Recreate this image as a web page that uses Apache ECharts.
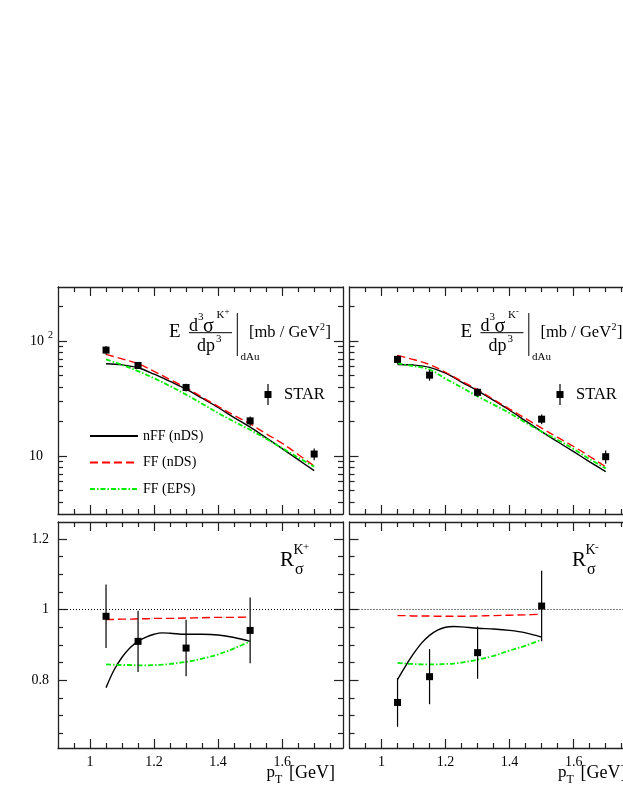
<!DOCTYPE html>
<html>
<head>
<meta charset="utf-8">
<script src="https://cdn.jsdelivr.net/npm/echarts@6/dist/echarts.min.js"></script>
<style>
html, body { margin: 0; padding: 0; background: #fff; overflow: hidden; }
#chart { width: 660px; height: 806px; }
</style>
</head>
<body>
<div id="chart"></div>
<script>
var chart = echarts.init(document.getElementById('chart'));

// STAR d+Au points, cross section [mb/GeV^2]
var ptPoints = [1.05, 1.15, 1.3, 1.5, 1.7];
var kPlusSigma = [83.4, 61.3, 39.4, 20.2, 10.4];
var kPlusSigmaErr = [7.0, 4.2, 3.0, 1.9, 1.2];
var kMinusSigma = [69.2, 50.5, 35.8, 20.9, 9.86];
var kMinusSigmaErr = [5.8, 5.3, 3.0, 2.0, 1.3];

// STAR ratio points
var ratioPoints = [1.05, 1.15, 1.3, 1.5];
var kPlusRatio = [0.981, 0.910, 0.891, 0.941];
var kPlusRatioErr = [0.090, 0.087, 0.080, 0.093];
var kMinusRatio = [0.737, 0.810, 0.878, 1.010];
var kMinusRatioErr = [0.069, 0.078, 0.074, 0.100];

// theory curves, cross section
var ptCurve = [1.05, 1.1, 1.15, 1.2, 1.25, 1.3, 1.35, 1.4, 1.45, 1.5, 1.55, 1.6, 1.65, 1.7];
var kPlusNffNds = [63.4, 62.0, 58.5, 51.5, 44.5, 38.2, 31.8, 26.4, 21.6, 17.8, 14.4, 11.6, 9.3, 7.45];
var kPlusFfNds = [76.6, 70.0, 63.5, 54.5, 46.2, 39.1, 32.5, 27.0, 22.6, 19.0, 15.6, 12.9, 10.3, 8.2];
var kPlusFfEps = [69.2, 62.0, 54.7, 47.5, 40.5, 34.2, 28.5, 23.6, 19.9, 16.9, 14.1, 11.7, 9.7, 8.07];
var kMinusNffNds = [62.5, 61.8, 59.0, 52.5, 44.0, 37.0, 30.5, 25.0, 20.2, 16.3, 13.3, 10.9, 8.9, 7.3];
var kMinusFfNds = [75.0, 69.0, 62.5, 53.5, 44.8, 37.8, 31.0, 25.6, 21.2, 17.5, 14.5, 12.1, 9.9, 8.06];
var kMinusFfEps = [63.8, 60.5, 56.5, 47.0, 39.5, 33.0, 28.0, 23.6, 19.5, 16.3, 13.8, 11.5, 9.4, 7.8];

// theory curves, ratio
var ptRatioCurve = [1.05, 1.075, 1.1, 1.125, 1.15, 1.175, 1.2, 1.225, 1.25, 1.3, 1.35, 1.4, 1.45, 1.5];
var kPlusRNffNds = [0.779, 0.829, 0.865, 0.892, 0.910, 0.922, 0.930, 0.934, 0.933, 0.930, 0.930, 0.928, 0.921, 0.910];
var kPlusRFfNds = [0.972, 0.972, 0.973, 0.973, 0.974, 0.974, 0.975, 0.975, 0.975, 0.976, 0.977, 0.978, 0.978, 0.979];
var kPlusRFfEps = [0.845, 0.844, 0.843, 0.843, 0.842, 0.842, 0.843, 0.844, 0.846, 0.852, 0.861, 0.873, 0.890, 0.910];
var kMinusRNffNds = [0.802, 0.840, 0.875, 0.905, 0.927, 0.942, 0.950, 0.952, 0.951, 0.947, 0.945, 0.941, 0.934, 0.922];
var kMinusRFfNds = [0.983, 0.983, 0.982, 0.982, 0.982, 0.981, 0.981, 0.981, 0.981, 0.982, 0.983, 0.984, 0.985, 0.987];
var kMinusRFfEps = [0.849, 0.847, 0.846, 0.845, 0.845, 0.845, 0.846, 0.847, 0.850, 0.858, 0.869, 0.884, 0.898, 0.915];

// ticks
var xMajor = [1, 1.2, 1.4, 1.6];
var xMinor = [0.95, 1.05, 1.1, 1.15, 1.25, 1.3, 1.35, 1.45, 1.5, 1.55, 1.65, 1.7, 1.75];
var logMajor = [10, 100];
var logMinor = [4, 5, 6, 7, 8, 9, 20, 30, 40, 50, 60, 70, 80, 90, 200];
var ratioMajor = [0.8, 1, 1.2];
var ratioMinor = [0.65, 0.7, 0.75, 0.85, 0.9, 0.95, 1.05, 1.1, 1.15];

var font = 'Liberation Serif';
var frame = { show: true, lineStyle: { color: '#222', width: 1.3 } };
var tickStyle = { color: '#222', width: 1.2 };

var grids = [
  { left: 58, top: 287, width: 285, height: 227 },
  { left: 349.5, top: 287, width: 285, height: 227 },
  { left: 58, top: 522, width: 285, height: 226 },
  { left: 349.5, top: 522, width: 285, height: 226 }
];
grids.forEach(function (g) { g.outerBoundsMode = 'none'; g.containLabel = false; });

function axisSet(dim, g, base, major, minor, labelOpt) {
  var sides = dim === 'x' ? ['bottom', 'top'] : ['left', 'right'];
  var out = [];
  sides.forEach(function (side, i) {
    out.push(Object.assign({}, base, {
      gridIndex: g, position: side, axisLine: frame, splitLine: { show: false },
      axisTick: { inside: true, length: 9, customValues: major, lineStyle: tickStyle },
      axisLabel: i === 0 && labelOpt ? labelOpt : { show: false }
    }));
    out.push(Object.assign({}, base, {
      gridIndex: g, position: side, axisLine: { show: false }, splitLine: { show: false },
      axisTick: { inside: true, length: 5, customValues: minor, lineStyle: tickStyle },
      axisLabel: { show: false }
    }));
  });
  return out;
}

var xBase = { type: 'value', min: 0.9, max: 1.79 };
var logBase = { type: 'log', logBase: 10, min: 3.13, max: 295 };
var ratioBase = { type: 'value', min: 0.608, max: 1.248 };

var xLabel = { show: true, customValues: xMajor, margin: 7, fontFamily: font, fontSize: 14, color: '#000' };
var logLabel = {
  show: true, customValues: logMajor, margin: 5, color: '#000',
  formatter: function (v) { return v >= 100 ? '{m|10}{e|2}' : '{n|10}'; },
  rich: {
    m: { fontFamily: font, fontSize: 14, color: '#000' },
    e: { fontFamily: font, fontSize: 10, color: '#000', padding: [0, 0, 12, 4] },
    n: { fontFamily: font, fontSize: 14, color: '#000', padding: [0, 10, 0, 0] }
  }
};
var ratioLabel = { show: true, customValues: ratioMajor, margin: 9, fontFamily: font, fontSize: 14, color: '#000' };

var xAxes = [], yAxes = [];
[0, 1, 2, 3].forEach(function (g) {
  xAxes = xAxes.concat(axisSet('x', g, xBase, xMajor, xMinor, g >= 2 ? xLabel : null));
  if (g < 2) {
    yAxes = yAxes.concat(axisSet('y', g, logBase, logMajor, logMinor, g === 0 ? logLabel : null));
  } else {
    yAxes = yAxes.concat(axisSet('y', g, ratioBase, ratioMajor, ratioMinor, g === 2 ? ratioLabel : null));
  }
});

var lineStyles = {
  'nFF (nDS)': { color: '#000000', width: 1.4, type: 'solid' },
  'FF (nDS)': { color: '#ff0000', width: 1.4, type: [8, 4] },
  'FF (EPS)': { color: '#00ee00', width: 1.8, type: [5, 2, 1.5, 2] }
};

function zip(xs, ys) { return xs.map(function (x, i) { return [x, ys[i]]; }); }

function curve(name, g, xs, ys, extra) {
  var ls = lineStyles[name];
  return Object.assign({
    name: name, type: 'line', xAxisIndex: g * 4, yAxisIndex: g * 4,
    data: zip(xs, ys), showSymbol: false, symbol: 'none', smooth: 0.35,
    color: ls.color, lineStyle: ls, z: 3
  }, extra || {});
}

function points(g, xs, ys, errs) {
  return {
    name: 'STAR', type: 'custom', xAxisIndex: g * 4, yAxisIndex: g * 4, z: 5,
    color: '#000', itemStyle: { color: '#000' },
    data: xs.map(function (x, i) { return [x, ys[i], ys[i] - errs[i], ys[i] + errs[i]]; }),
    renderItem: function (params, api) {
      var p = api.coord([api.value(0), api.value(1)]);
      var lo = api.coord([api.value(0), api.value(2)]);
      var hi = api.coord([api.value(0), api.value(3)]);
      return {
        type: 'group',
        children: [
          { type: 'line', shape: { x1: p[0], y1: hi[1], x2: p[0], y2: lo[1] }, style: { stroke: '#000', lineWidth: 1.2 } },
          { type: 'rect', shape: { x: p[0] - 3.5, y: p[1] - 3.5, width: 7, height: 7 }, style: { fill: '#000' } }
        ]
      };
    }
  };
}

var unity = {
  silent: true, symbol: 'none', label: { show: false },
  lineStyle: { color: '#000', width: 1, type: [1, 2] },
  data: [{ yAxis: 1 }]
};

var series = [
  curve('nFF (nDS)', 0, ptCurve, kPlusNffNds),
  curve('FF (nDS)', 0, ptCurve, kPlusFfNds),
  curve('FF (EPS)', 0, ptCurve, kPlusFfEps),
  points(0, ptPoints, kPlusSigma, kPlusSigmaErr),
  curve('nFF (nDS)', 1, ptCurve, kMinusNffNds),
  curve('FF (nDS)', 1, ptCurve, kMinusFfNds),
  curve('FF (EPS)', 1, ptCurve, kMinusFfEps),
  points(1, ptPoints, kMinusSigma, kMinusSigmaErr),
  curve('nFF (nDS)', 2, ptRatioCurve, kPlusRNffNds, { markLine: unity }),
  curve('FF (nDS)', 2, ptRatioCurve, kPlusRFfNds),
  curve('FF (EPS)', 2, ptRatioCurve, kPlusRFfEps),
  points(2, ratioPoints, kPlusRatio, kPlusRatioErr),
  curve('nFF (nDS)', 3, ptRatioCurve, kMinusRNffNds, { markLine: unity }),
  curve('FF (nDS)', 3, ptRatioCurve, kMinusRFfNds),
  curve('FF (EPS)', 3, ptRatioCurve, kMinusRFfEps),
  points(3, ratioPoints, kMinusRatio, kMinusRatioErr)
];

// marker with error bar, padded left/right by tiny dots so the text sits further away
var starIcon = 'path://M0,10.5h0.01v0.01h-0.01Z M4.4,0H5.6V21H4.4Z M1.5,7H8.5V14H1.5Z M15.99,10.5h0.01v0.01h-0.01Z';
function starLegend(left) {
  return {
    data: [{ name: 'STAR', icon: starIcon }], left: left, top: 384, padding: 0,
    itemWidth: 16, itemHeight: 21, selectedMode: false,
    textStyle: { fontFamily: font, fontSize: 16.5, color: '#000' }
  };
}

function txt(x, y, s, size) {
  return {
    type: 'text', x: x, y: y, silent: true,
    style: { text: s, fontFamily: font, fontSize: size, fill: '#000', align: 'left', verticalAlign: 'middle' }
  };
}
function seg(x1, y1, x2, y2) {
  return { type: 'line', silent: true, shape: { x1: x1, y1: y1, x2: x2, y2: y2 }, style: { stroke: '#000', lineWidth: 1 } };
}

function crossTitle(dx, sign) {
  return [
    txt(169 + dx, 332.5, 'E', 19),
    txt(189 + dx, 326, 'd', 18),
    txt(198 + dx, 317.5, '3', 11),
    txt(203 + dx, 327, '\u03c3', 20),
    txt(216.5 + dx, 315.5, 'K', 11),
    txt(224.5 + dx, 312, sign, 9),
    seg(189 + dx, 332.7, 232 + dx, 332.7),
    txt(197 + dx, 346.5, 'dp', 18),
    txt(216 + dx, 339.5, '3', 11),
    seg(237.3 + dx, 313, 237.3 + dx, 356),
    txt(240.5 + dx, 357, 'dAu', 11),
    txt(249 + dx, 333, '[mb / GeV', 16.5),
    txt(320 + dx, 327, '2', 10),
    txt(325.5 + dx, 333, ']', 16.5)
  ];
}
function ratioTitle(dx, sign) {
  return [
    txt(280 + dx, 560, 'R', 21),
    txt(293.5 + dx, 550, 'K', 14),
    txt(303 + dx, 547, sign, 11),
    txt(295 + dx, 570, '\u03c3', 16)
  ];
}
function ptTitle(dx) {
  return [
    txt(266.5 + dx, 773, 'p', 17),
    txt(275 + dx, 780, 'T', 12),
    txt(289 + dx, 773, '[GeV]', 18)
  ];
}

var graphics = [].concat(
  crossTitle(0, '+'), crossTitle(291.5, '-'),
  ratioTitle(0, '+'), ratioTitle(292, '-'),
  ptTitle(0), ptTitle(291.5)
);

chart.setOption({
  animation: false,
  backgroundColor: '#fff',
  grid: grids,
  xAxis: xAxes,
  yAxis: yAxes,
  legend: [
    {
      data: ['nFF (nDS)', 'FF (nDS)', 'FF (EPS)'], orient: 'vertical', padding: 0,
      left: 89, top: 429, itemWidth: 48, itemHeight: 14, itemGap: 12.5, selectedMode: false,
      itemStyle: { opacity: 0 },
      textStyle: { fontFamily: font, fontSize: 14, color: '#000', lineHeight: 14 }
    },
    starLegend(263),
    starLegend(555)
  ],
  series: series,
  graphic: graphics
});
</script>
</body>
</html>
